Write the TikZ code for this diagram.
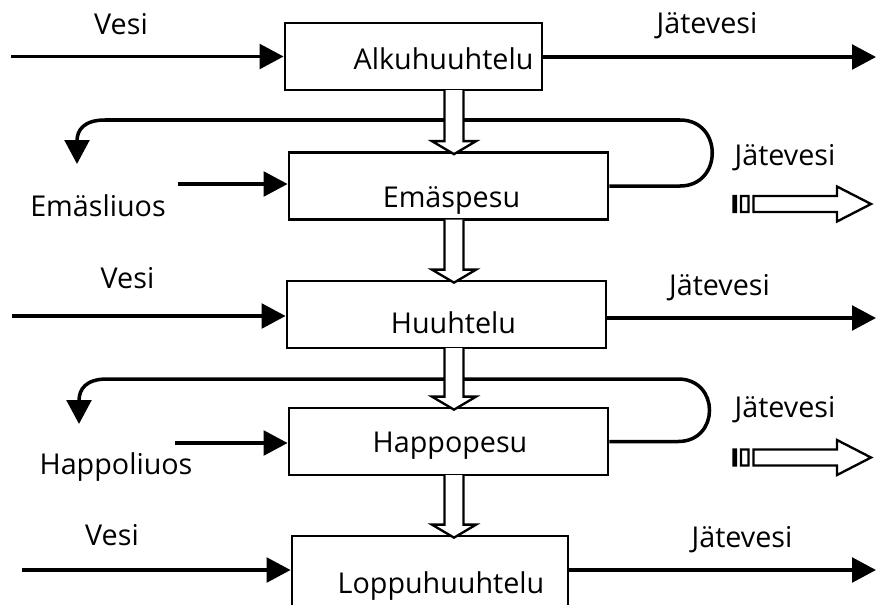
\documentclass[tikz,border=0pt]{standalone}
\usepackage{fontspec}
\setmainfont{Open Sans}
\usetikzlibrary{arrows.meta, calc}

% hollow block arrow from one stage down to the next
\newcommand{\fatdown}[2]{%
  \draw[fat] let \p1=(fx |- #1.south), \p2=(fx |- #2.north) in
    ({\x1-8.1pt},{\y1+1pt}) -- ({\x1-8.1pt},{\y2+8.5pt}) -- ({\x1-18.8pt},{\y2+8.5pt})
    -- (\x1,{\y2-2.6pt}) -- ({\x1+18.8pt},{\y2+8.5pt}) -- ({\x1+8.1pt},{\y2+8.5pt})
    -- ({\x1+8.1pt},{\y1+1pt});}

\begin{document}
\begin{tikzpicture}[x=0.03cm, y=-0.03cm,
    stage/.style={rectangle, draw, line width=2.4pt, minimum height=2.01cm, inner sep=0pt},
    txt/.style={font=\fontsize{24.5pt}{29pt}\selectfont, text height=17.5pt, text depth=0pt, inner sep=0pt},
    flow/.style={line width=3pt, -{Triangle[length=0.72cm, width=0.74cm]}},
    fat/.style={line width=2pt, fill=white, line join=miter}]

    \useasboundingbox (0,0) rectangle (881,604);
    \clip (0,0) rectangle (881,604);

    % stages
    \node (b1) [stage, minimum width=7.71cm, label={[txt, shift={(30,2.5)}]center:Alkuhuuhtelu}] at (413.5,56.5) {};
    \node (b2) [stage, minimum width=9.57cm, label={[txt, shift={(3,11)}]center:Emäspesu}] at (448.5,186) {};
    \node (b3) [stage, minimum width=9.57cm, label={[txt, shift={(7,8.5)}]center:Huuhtelu}] at (446.5,314.5) {};
    \node (b4) [stage, minimum width=9.57cm, label={[txt, shift={(1.5,0.5)}]center:Happopesu}] at (448.5,441.5) {};
    \node (b5) [stage, minimum width=8.28cm, minimum height=2.94cm, label={[txt, shift={(11,-2)}]center:Loppuhuuhtelu}] at (430,585) {};

    % labels
    \node (vesi1) [txt] at (121,24) {Vesi};
    \node (jate1) [txt] at (707,23) {Jätevesi};
    \node (emas) [txt] at (98,206) {Emäsliuos};
    \node (jate2) [txt] at (785,155) {Jätevesi};
    \node (vesi3) [txt] at (127.5,278) {Vesi};
    \node (jate3) [txt] at (719.5,285) {Jätevesi};
    \node (happo) [txt] at (116,464) {Happoliuos};
    \node (jate4) [txt] at (785,407) {Jätevesi};
    \node (vesi5) [txt] at (112,535) {Vesi};
    \node (jate5) [txt] at (742,537) {Jätevesi};

    % free ends
    \coordinate (in1) at (11,56.5);
    \coordinate (out1) at (876,57);
    \coordinate (in2) at (178,184);
    \coordinate (back2) at (77,164);
    \coordinate (in3) at (12,316);
    \coordinate (out3) at (876,318);
    \coordinate (in4) at (175,443);
    \coordinate (back4) at (79,424);
    \coordinate (in5) at (22,570);
    \coordinate (out5) at (876,570);
    \coordinate (fx) at (454,0);

    % flows in and out
    \draw[flow] (in1) -- (in1 -| b1.west);
    \draw[flow] (b1.east |- out1) -- (out1);
    \draw[flow] (in2) -- (in2 -| b2.west);
    \draw[flow] (in3) -- (in3 -| b3.west);
    \draw[flow] (b3.east |- out3) -- (out3);
    \draw[flow] (in4) -- (in4 -| b4.west);
    \draw[flow] (in5) -- (in5 -| b5.west);
    \draw[flow] (b5.east |- out5) -- (out5);

    % return loops
    \draw[flow] (b2.east) -- (680,186) .. controls (723,186) and (723,120) .. (680,120)
        -- (105,120) .. controls (84,120) and (77,130) .. (back2);
    \draw[flow] (b4.east) -- (678,441.5) .. controls (720,441.5) and (720,379) .. (678,379)
        -- (107,379) .. controls (86,379) and (79,389) .. (back4);

    % hollow arrows between stages
    \fatdown{b1}{b2}
    \fatdown{b2}{b3}
    \fatdown{b3}{b4}
    \fatdown{b4}{b5}

    % waste water arrows
    \foreach \yy in {204,457.5}
        \draw[fat] (733.5,\yy-8) rectangle (736,\yy+8) (741,\yy-8) rectangle (748.5,\yy+8)
            (753.5,\yy-8) -- (837,\yy-8) -- (837,\yy-17.5) -- (871,\yy) -- (837,\yy+17.5)
            -- (837,\yy+8) -- (753.5,\yy+8) -- cycle;

\end{tikzpicture}
\end{document}
